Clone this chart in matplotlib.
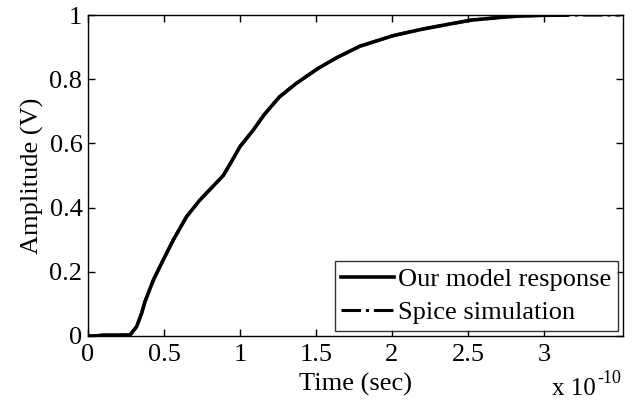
import numpy as np
import matplotlib
matplotlib.use("Agg")
import matplotlib.pyplot as plt

# time in units of 1e-10 s, amplitude in volts
time_model = [0.0, 0.05, 0.10, 0.20, 0.276, 0.320, 0.353, 0.375, 0.430, 0.495,
              0.561, 0.649, 0.737, 0.824, 0.890, 0.934, 1.0, 1.088, 1.160,
              1.260, 1.370, 1.515, 1.640, 1.790, 2.010, 2.200, 2.380, 2.520,
              2.70, 2.84, 3.0, 3.15]
amp_model = [0.0, 0.0, 0.003, 0.003, 0.003, 0.029, 0.071, 0.107, 0.174, 0.237,
             0.299, 0.372, 0.424, 0.467, 0.500, 0.535, 0.590, 0.642, 0.690,
             0.745, 0.787, 0.834, 0.868, 0.903, 0.936, 0.956, 0.972, 0.984,
             0.992, 0.997, 0.999, 1.0]

time_spice = [0.0, 0.05, 0.10, 0.20, 0.276, 0.320, 0.353, 0.375, 0.430, 0.495,
              0.561, 0.649, 0.737, 0.824, 0.890, 0.934, 1.0, 1.088, 1.160,
              1.260, 1.370, 1.515, 1.640, 1.790, 2.010, 2.200, 2.380, 2.520,
              2.70, 2.84, 3.0, 3.15, 3.3, 3.5]
amp_spice = [0.0, 0.0, 0.0, 0.002, 0.003, 0.029, 0.071, 0.107, 0.174, 0.237,
             0.299, 0.372, 0.424, 0.467, 0.500, 0.535, 0.590, 0.642, 0.690,
             0.745, 0.787, 0.834, 0.868, 0.903, 0.936, 0.956, 0.972, 0.984,
             0.992, 0.997, 0.999, 1.0, 1.0, 1.0]

x_ticks = [0, 0.5, 1, 1.5, 2, 2.5, 3]
y_ticks = [0, 0.2, 0.4, 0.6, 0.8, 1]

plt.rcParams["font.family"] = ["Liberation Serif", "DejaVu Serif"]

fig = plt.figure(figsize=(6.44, 4.09), dpi=100)
ax = fig.add_axes([0.1366, 0.1785, 0.8308, 0.7848])

ax.plot(time_spice, amp_spice, color="black", lw=2.2, ls="-.", label="Spice simulation")
ax.plot(time_model, amp_model, color="black", lw=2.6, ls="-", label="Our model response")

ax.set_xlim(0, 3.52)
ax.set_ylim(0, 1)
ax.set_xticks(x_ticks)
ax.set_xticklabels(["0", "0.5", "1", "1.5", "2", "2.5", "3"])
ax.set_yticks(y_ticks)
ax.set_yticklabels(["0", "0.2", "0.4", "0.6", "0.8", "1"])
ax.tick_params(direction="in", length=5, width=1, top=True, right=True,
               labelsize=19, pad=4)
ax.tick_params(axis="x", pad=6)
for s in ax.spines.values():
    s.set_linewidth(1)

ax.set_xlabel("Time (sec)", fontsize=19, labelpad=5)
ax.set_ylabel("Amplitude (V)", fontsize=19, labelpad=4)

handles, labels = ax.get_legend_handles_labels()
leg = ax.legend(handles[::-1], labels[::-1], loc="lower right", fontsize=19,
                frameon=True, fancybox=False, edgecolor="black",
                handlelength=2.0, handletextpad=0.15, borderpad=0.25,
                labelspacing=0.35, borderaxespad=0.2)
leg.get_frame().set_linewidth(1)

fig.text(0.857, 0.035, "x 10", fontsize=18)
fig.text(0.927, 0.064, "-10", fontsize=13)

plt.savefig("out.png", dpi=100)
